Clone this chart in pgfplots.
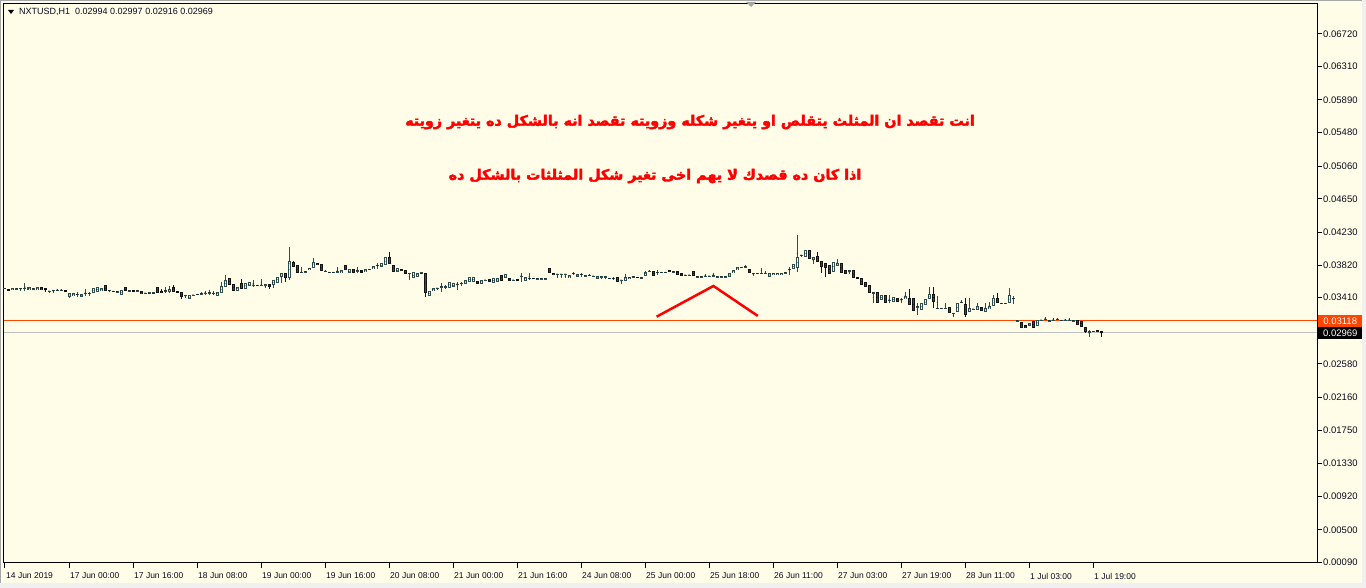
\documentclass[border=0pt]{standalone}
\usepackage{pgfplots}
\pgfplotsset{compat=1.18}
\usepackage{pgfplotstable}
\usepackage{fontspec}
\setmainfont{Liberation Sans}
\newfontfamily\arabicfont[Script=Arabic, BoldFeatures={FakeBold=2.6}]{DejaVu Sans}
\TeXXeTstate=1
\definecolor{bgc}{RGB}{255,253,232}
\definecolor{winc}{RGB}{240,240,240}
\definecolor{bullc}{RGB}{47,79,79}
\definecolor{bearc}{RGB}{20,20,20}
\definecolor{bearin}{RGB}{75,75,75}
\definecolor{askc}{RGB}{255,69,0}
\definecolor{bidc}{RGB}{192,192,192}
\definecolor{txtc}{RGB}{10,10,30}

\pgfplotsset{
  candle/.style 2 args={draw=none, mark=*, mark size=0.01bp, mark options={draw=none, fill=none}, forget plot,
    restrict y to domain=0:1,
    error bars/.cd, y dir=both, y explicit, error mark=none,
    error bar style={draw=#1, line width=#2}},
}

\pgfplotstableread{
x o h l c t
0 0.03528 0.03532 0.03520 0.03528 1
1 0.03516 0.03516 0.03491 0.03503 0
2 0.03503 0.03532 0.03503 0.03532 1
3 0.03524 0.03528 0.03520 0.03524 1
4 0.03528 0.03528 0.03499 0.03528 1
5 0.03532 0.03591 0.03499 0.03532 1
6 0.03507 0.03541 0.03507 0.03541 1
7 0.03524 0.03528 0.03520 0.03524 1
8 0.03507 0.03541 0.03507 0.03541 1
9 0.03541 0.03541 0.03507 0.03507 0
10 0.03528 0.03528 0.03482 0.03507 0
11 0.03495 0.03495 0.03478 0.03495 1
12 0.03503 0.03503 0.03474 0.03503 1
13 0.03503 0.03516 0.03503 0.03503 1
14 0.03503 0.03520 0.03503 0.03503 1
15 0.03507 0.03507 0.03486 0.03486 0
16 0.03424 0.03474 0.03403 0.03474 1
17 0.03432 0.03465 0.03432 0.03465 1
18 0.03453 0.03482 0.03424 0.03453 1
19 0.03424 0.03457 0.03424 0.03457 1
20 0.03465 0.03516 0.03436 0.03465 1
21 0.03465 0.03486 0.03436 0.03465 1
22 0.03465 0.03528 0.03465 0.03528 1
23 0.03482 0.03549 0.03482 0.03549 1
24 0.03495 0.03528 0.03495 0.03528 1
25 0.03566 0.03566 0.03491 0.03491 0
26 0.03503 0.03507 0.03482 0.03503 1
27 0.03491 0.03495 0.03486 0.03491 1
28 0.03474 0.03495 0.03474 0.03495 1
29 0.03440 0.03507 0.03440 0.03507 1
30 0.03541 0.03541 0.03491 0.03491 0
31 0.03499 0.03499 0.03486 0.03499 1
32 0.03503 0.03503 0.03478 0.03491 0
33 0.03499 0.03503 0.03495 0.03499 1
34 0.03495 0.03495 0.03453 0.03453 0
35 0.03470 0.03470 0.03457 0.03470 1
36 0.03453 0.03478 0.03453 0.03478 1
37 0.03453 0.03478 0.03453 0.03478 1
38 0.03541 0.03541 0.03465 0.03465 0
39 0.03499 0.03524 0.03465 0.03465 0
40 0.03499 0.03541 0.03465 0.03499 1
41 0.03486 0.03557 0.03474 0.03524 1
42 0.03541 0.03570 0.03486 0.03486 0
43 0.03495 0.03495 0.03474 0.03474 0
44 0.03482 0.03482 0.03390 0.03424 0
45 0.03440 0.03440 0.03403 0.03440 1
46 0.03390 0.03445 0.03390 0.03445 1
47 0.03445 0.03449 0.03440 0.03445 1
48 0.03453 0.03457 0.03449 0.03453 1
49 0.03449 0.03478 0.03449 0.03465 1
50 0.03470 0.03499 0.03440 0.03470 1
51 0.03474 0.03507 0.03440 0.03474 1
52 0.03465 0.03495 0.03445 0.03465 1
53 0.03436 0.03486 0.03436 0.03486 1
54 0.03474 0.03612 0.03474 0.03557 1
55 0.03549 0.03695 0.03541 0.03633 1
56 0.03654 0.03654 0.03570 0.03570 0
57 0.03582 0.03582 0.03491 0.03491 0
58 0.03499 0.03549 0.03499 0.03549 1
59 0.03591 0.03641 0.03524 0.03524 0
60 0.03524 0.03591 0.03524 0.03591 1
61 0.03557 0.03603 0.03557 0.03603 1
62 0.03570 0.03633 0.03549 0.03570 1
63 0.03566 0.03570 0.03562 0.03566 1
64 0.03570 0.03641 0.03557 0.03570 1
65 0.03574 0.03574 0.03528 0.03574 1
66 0.03582 0.03582 0.03516 0.03549 0
67 0.03574 0.03633 0.03528 0.03633 1
68 0.03599 0.03674 0.03599 0.03674 1
69 0.03674 0.03725 0.03599 0.03716 1
70 0.03725 0.03725 0.03612 0.03662 0
71 0.03654 0.04051 0.03633 0.03871 1
72 0.03863 0.03875 0.03800 0.03800 0
73 0.03821 0.03821 0.03716 0.03716 0
74 0.03729 0.03800 0.03716 0.03729 1
75 0.03737 0.03741 0.03733 0.03737 1
76 0.03758 0.03787 0.03758 0.03787 1
77 0.03779 0.03904 0.03779 0.03863 1
78 0.03850 0.03850 0.03817 0.03817 0
79 0.03829 0.03829 0.03750 0.03750 0
80 0.03741 0.03758 0.03737 0.03741 1
81 0.03729 0.03733 0.03725 0.03729 1
82 0.03729 0.03733 0.03725 0.03729 1
83 0.03737 0.03791 0.03716 0.03737 1
84 0.03716 0.03758 0.03716 0.03758 1
85 0.03821 0.03821 0.03758 0.03758 0
86 0.03716 0.03766 0.03716 0.03766 1
87 0.03766 0.03766 0.03725 0.03725 0
88 0.03750 0.03800 0.03716 0.03750 1
89 0.03758 0.03758 0.03720 0.03720 0
90 0.03729 0.03766 0.03729 0.03766 1
91 0.03766 0.03770 0.03762 0.03766 1
92 0.03766 0.03808 0.03766 0.03808 1
93 0.03817 0.03850 0.03766 0.03817 1
94 0.03791 0.03842 0.03791 0.03842 1
95 0.03821 0.03917 0.03821 0.03917 1
96 0.03917 0.03988 0.03833 0.03833 0
97 0.03825 0.03825 0.03737 0.03737 0
98 0.03729 0.03779 0.03729 0.03779 1
99 0.03775 0.03775 0.03741 0.03741 0
100 0.03758 0.03758 0.03704 0.03704 0
101 0.03716 0.03716 0.03633 0.03716 1
102 0.03654 0.03729 0.03654 0.03729 1
103 0.03674 0.03725 0.03674 0.03725 1
104 0.03704 0.03729 0.03704 0.03729 1
105 0.03725 0.03725 0.03424 0.03474 0
106 0.03432 0.03495 0.03432 0.03495 1
107 0.03495 0.03528 0.03495 0.03528 1
108 0.03532 0.03532 0.03516 0.03532 1
109 0.03549 0.03599 0.03486 0.03549 1
110 0.03549 0.03570 0.03516 0.03549 1
111 0.03528 0.03612 0.03528 0.03612 1
112 0.03541 0.03591 0.03541 0.03591 1
113 0.03582 0.03612 0.03507 0.03582 1
114 0.03591 0.03612 0.03557 0.03591 1
115 0.03582 0.03633 0.03582 0.03633 1
116 0.03612 0.03666 0.03612 0.03666 1
117 0.03612 0.03666 0.03612 0.03666 1
118 0.03624 0.03624 0.03582 0.03582 0
119 0.03582 0.03633 0.03582 0.03633 1
120 0.03633 0.03637 0.03629 0.03633 1
121 0.03641 0.03641 0.03612 0.03612 0
122 0.03599 0.03654 0.03599 0.03654 1
123 0.03603 0.03662 0.03603 0.03662 1
124 0.03695 0.03695 0.03624 0.03624 0
125 0.03654 0.03708 0.03654 0.03708 1
126 0.03654 0.03654 0.03624 0.03624 0
127 0.03633 0.03637 0.03629 0.03633 1
128 0.03645 0.03645 0.03620 0.03620 0
129 0.03683 0.03725 0.03612 0.03683 1
130 0.03624 0.03674 0.03624 0.03674 1
131 0.03654 0.03725 0.03633 0.03654 1
132 0.03662 0.03662 0.03641 0.03641 0
133 0.03649 0.03653 0.03645 0.03649 1
134 0.03649 0.03653 0.03645 0.03649 1
135 0.03649 0.03653 0.03645 0.03649 1
136 0.03779 0.03779 0.03716 0.03716 0
137 0.03725 0.03725 0.03695 0.03695 0
138 0.03708 0.03708 0.03654 0.03708 1
139 0.03708 0.03708 0.03654 0.03708 1
140 0.03708 0.03708 0.03654 0.03708 1
141 0.03654 0.03695 0.03654 0.03695 1
142 0.03716 0.03737 0.03695 0.03716 1
143 0.03674 0.03704 0.03674 0.03704 1
144 0.03704 0.03725 0.03674 0.03704 1
145 0.03687 0.03691 0.03683 0.03687 1
146 0.03687 0.03704 0.03687 0.03695 1
147 0.03683 0.03687 0.03679 0.03683 1
148 0.03641 0.03687 0.03641 0.03687 1
149 0.03674 0.03674 0.03641 0.03674 1
150 0.03674 0.03674 0.03641 0.03674 1
151 0.03654 0.03658 0.03650 0.03654 1
152 0.03654 0.03674 0.03633 0.03654 1
153 0.03674 0.03674 0.03612 0.03612 0
154 0.03633 0.03633 0.03582 0.03633 1
155 0.03624 0.03704 0.03624 0.03674 1
156 0.03641 0.03674 0.03641 0.03674 1
157 0.03674 0.03678 0.03670 0.03674 1
158 0.03674 0.03674 0.03654 0.03654 0
159 0.03662 0.03666 0.03658 0.03662 1
160 0.03683 0.03750 0.03683 0.03737 1
161 0.03741 0.03758 0.03741 0.03746 1
162 0.03750 0.03750 0.03683 0.03683 0
163 0.03729 0.03758 0.03695 0.03729 1
164 0.03729 0.03733 0.03725 0.03729 1
165 0.03729 0.03733 0.03725 0.03729 1
166 0.03758 0.03758 0.03729 0.03729 0
167 0.03737 0.03741 0.03733 0.03737 1
168 0.03750 0.03750 0.03695 0.03695 0
169 0.03716 0.03716 0.03687 0.03687 0
170 0.03695 0.03699 0.03691 0.03695 1
171 0.03695 0.03699 0.03691 0.03695 1
172 0.03741 0.03741 0.03687 0.03687 0
173 0.03674 0.03678 0.03670 0.03674 1
174 0.03674 0.03678 0.03670 0.03674 1
175 0.03683 0.03704 0.03679 0.03683 1
176 0.03683 0.03687 0.03679 0.03683 1
177 0.03687 0.03725 0.03683 0.03687 1
178 0.03674 0.03678 0.03670 0.03674 1
179 0.03674 0.03678 0.03670 0.03674 1
180 0.03674 0.03678 0.03670 0.03674 1
181 0.03674 0.03716 0.03674 0.03716 1
182 0.03716 0.03758 0.03716 0.03758 1
183 0.03758 0.03791 0.03758 0.03791 1
184 0.03791 0.03795 0.03787 0.03791 1
185 0.03800 0.03817 0.03796 0.03800 1
186 0.03775 0.03775 0.03716 0.03716 0
187 0.03716 0.03716 0.03683 0.03716 1
188 0.03716 0.03720 0.03712 0.03716 1
189 0.03716 0.03779 0.03712 0.03716 1
190 0.03716 0.03750 0.03712 0.03716 1
191 0.03674 0.03716 0.03674 0.03716 1
192 0.03691 0.03725 0.03691 0.03725 1
193 0.03691 0.03725 0.03691 0.03725 1
194 0.03691 0.03725 0.03691 0.03725 1
195 0.03725 0.03729 0.03721 0.03725 1
196 0.03766 0.03800 0.03695 0.03766 1
197 0.03775 0.03833 0.03775 0.03833 1
198 0.03779 0.04197 0.03737 0.03917 1
199 0.03946 0.03950 0.03925 0.03946 1
200 0.03917 0.04009 0.03917 0.04009 1
201 0.04009 0.04009 0.03892 0.03892 0
202 0.03883 0.03925 0.03829 0.03925 1
203 0.03934 0.03980 0.03862 0.03862 0
204 0.03871 0.03871 0.03716 0.03800 0
205 0.03842 0.03842 0.03674 0.03779 0
206 0.03821 0.03821 0.03708 0.03708 0
207 0.03737 0.03862 0.03737 0.03862 1
208 0.03812 0.03892 0.03812 0.03850 1
209 0.03842 0.03842 0.03725 0.03725 0
210 0.03758 0.03758 0.03708 0.03708 0
211 0.03750 0.03750 0.03704 0.03750 1
212 0.03758 0.03758 0.03653 0.03653 0
213 0.03674 0.03674 0.03649 0.03649 0
214 0.03653 0.03653 0.03570 0.03570 0
215 0.03612 0.03612 0.03549 0.03549 0
216 0.03570 0.03570 0.03465 0.03465 0
217 0.03474 0.03486 0.03340 0.03474 1
218 0.03486 0.03486 0.03348 0.03348 0
219 0.03382 0.03445 0.03382 0.03445 1
220 0.03445 0.03445 0.03340 0.03340 0
221 0.03382 0.03445 0.03340 0.03382 1
222 0.03361 0.03415 0.03361 0.03415 1
223 0.03411 0.03411 0.03361 0.03361 0
224 0.03390 0.03411 0.03340 0.03390 1
225 0.03390 0.03486 0.03390 0.03432 1
226 0.03403 0.03520 0.03319 0.03319 0
227 0.03403 0.03403 0.03248 0.03248 0
228 0.03298 0.03340 0.03194 0.03298 1
229 0.03256 0.03340 0.03256 0.03340 1
230 0.03319 0.03390 0.03319 0.03390 1
231 0.03390 0.03549 0.03390 0.03457 1
232 0.03457 0.03549 0.03277 0.03361 0
233 0.03277 0.03432 0.03273 0.03277 1
234 0.03277 0.03281 0.03273 0.03277 1
235 0.03277 0.03340 0.03273 0.03277 1
236 0.03298 0.03298 0.03215 0.03215 0
237 0.03215 0.03215 0.03164 0.03215 1
238 0.03227 0.03340 0.03227 0.03340 1
239 0.03340 0.03382 0.03340 0.03361 1
240 0.03332 0.03403 0.03164 0.03194 0
241 0.03236 0.03403 0.03236 0.03277 1
242 0.03269 0.03273 0.03265 0.03269 1
243 0.03256 0.03340 0.03256 0.03307 1
244 0.03298 0.03298 0.03248 0.03248 0
245 0.03236 0.03340 0.03236 0.03277 1
246 0.03265 0.03361 0.03265 0.03307 1
247 0.03307 0.03445 0.03307 0.03403 1
248 0.03403 0.03465 0.03340 0.03340 0
249 0.03340 0.03344 0.03336 0.03340 1
250 0.03340 0.03344 0.03336 0.03340 1
251 0.03340 0.03528 0.03340 0.03445 1
252 0.03403 0.03432 0.03332 0.03403 1
253 0.03123 0.03131 0.03119 0.03123 1
254 0.03110 0.03110 0.03027 0.03027 0
255 0.03064 0.03064 0.03027 0.03027 0
256 0.03056 0.03098 0.03056 0.03098 1
257 0.03123 0.03123 0.03027 0.03027 0
258 0.03056 0.03131 0.03056 0.03131 1
259 0.03131 0.03135 0.03127 0.03131 1
260 0.03144 0.03164 0.03140 0.03144 1
261 0.03123 0.03127 0.03119 0.03123 1
262 0.03131 0.03152 0.03127 0.03131 1
263 0.03139 0.03160 0.03135 0.03139 1
264 0.03127 0.03131 0.03123 0.03127 1
265 0.03131 0.03148 0.03127 0.03131 1
266 0.03131 0.03152 0.03127 0.03131 1
267 0.03123 0.03127 0.03119 0.03123 1
268 0.03131 0.03131 0.03068 0.03068 0
269 0.03118 0.03118 0.03048 0.03048 0
270 0.03048 0.03048 0.02964 0.02985 0
271 0.02985 0.03006 0.02914 0.02985 1
272 0.02976 0.02998 0.02976 0.02998 1
273 0.03002 0.03002 0.02976 0.02976 0
274 0.02994 0.02997 0.02916 0.02969 0
}\candles

\begin{document}
\begin{tikzpicture}[x=1bp,y=1bp]
\fill[winc] (-4,-25) rectangle (1362,563);
\fill[bgc] (-4,-20) rectangle (1358,563);
\draw[black!35, line width=1bp] (-3.5,-20) -- (-3.5,562.5) -- (1358,562.5);
\begin{axis}[
  at={(0,0)}, anchor=south west,
  scale only axis, width=1313bp, height=559bp,
  xmin=-0.25, xmax=328, ymin=0.000833, ymax=0.070932,
  clip=false, scaled y ticks=false, scaled x ticks=false,
  axis line style={black, line width=1bp},
  xtick pos=bottom, ytick pos=right, yticklabel pos=right,
  tick align=outside, major tick length=5bp,
  tick style={black, line width=1bp},
  xtick={0,16,32,48,64,80,96,112,128,144,160,176,192,208,224,240,256,272},
  xticklabels={14 Jun 2019,17 Jun 00:00,17 Jun 16:00,18 Jun 08:00,19 Jun 00:00,19 Jun 16:00,20 Jun 08:00,21 Jun 00:00,21 Jun 16:00,24 Jun 08:00,25 Jun 00:00,25 Jun 18:00,26 Jun 11:00,27 Jun 03:00,27 Jun 19:00,28 Jun 11:00,1 Jul 03:00,1 Jul 19:00},
  ytick={0.00090,0.00500,0.00920,0.01330,0.01750,0.02160,0.02580,0.03410,0.03820,0.04230,0.04650,0.05060,0.05480,0.05890,0.06310,0.06720},
  yticklabels={0.00090,0.00500,0.00920,0.01330,0.01750,0.02160,0.02580,0.03410,0.03820,0.04230,0.04650,0.05060,0.05480,0.05890,0.06310,0.06720},
  yticklabel style={font=\fontsize{9.5bp}{11bp}\selectfont, text=txtc, anchor=west, inner sep=1bp},
  xticklabel style={font=\fontsize{8.5bp}{10bp}\selectfont, text=txtc, anchor=west, yshift=-8bp, inner sep=1bp},
]
\addplot[askc, line width=1bp, forget plot] coordinates {(-0.25,0.03118) (328,0.03118)};
\addplot[bidc, line width=1bp, forget plot] coordinates {(-0.25,0.02969) (328,0.02969)};
% wicks (t=1 bull, t=0 bear; other rows pushed out of the domain and dropped)
\addplot[candle={bullc}{1bp}]
  table[x=x, y expr={(\thisrow{h}+\thisrow{l})/2+(1-\thisrow{t})*10}, y error expr={(\thisrow{h}-\thisrow{l})/2}] {\candles};
\addplot[candle={bearc}{1bp}]
  table[x=x, y expr={(\thisrow{h}+\thisrow{l})/2+\thisrow{t}*10}, y error expr={(\thisrow{h}-\thisrow{l})/2}] {\candles};
% bull bodies
\addplot[candle={bullc}{3bp}]
  table[x=x, y expr={(\thisrow{o}+\thisrow{c})/2+(1-\thisrow{t})*10}, y error expr={max(abs(\thisrow{c}-\thisrow{o})/2,0.00005)}] {\candles};
\addplot[candle={bgc}{1bp}]
  table[x=x, y expr={(\thisrow{o}+\thisrow{c})/2+(1-\thisrow{t})*10}, y error expr={max(abs(\thisrow{c}-\thisrow{o})/2-0.000125,0)}] {\candles};
% bear bodies
\addplot[candle={bearc}{3bp}]
  table[x=x, y expr={(\thisrow{o}+\thisrow{c})/2+\thisrow{t}*10}, y error expr={max(abs(\thisrow{c}-\thisrow{o})/2,0.00005)}] {\candles};
\addplot[candle={bearin}{1bp}]
  table[x=x, y expr={(\thisrow{o}+\thisrow{c})/2+\thisrow{t}*10}, y error expr={max(abs(\thisrow{c}-\thisrow{o})/2-0.000125,0)}] {\candles};
% red triangle annotation
\addplot[red, line width=2.5bp, forget plot] coordinates {(162.9,0.03172) (177.1,0.03557) (188.2,0.03181)};
% price boxes
\node[fill=askc, text=white, anchor=west, inner sep=0pt, minimum width=44bp, minimum height=12bp, font=\fontsize{9.5bp}{11bp}\selectfont, xshift=1bp] at (axis cs:328,0.03118) {0.03118};
\node[fill=black, text=white, anchor=west, inner sep=0pt, minimum width=44bp, minimum height=12bp, font=\fontsize{9.5bp}{11bp}\selectfont, xshift=1bp] at (axis cs:328,0.02969) {0.02969};
% Arabic text
\node[text=red, inner sep=0pt, font=\arabicfont\bfseries\fontsize{14.3bp}{17bp}\selectfont] at (axis cs:171.25,0.05613) {\beginR انت تقصد ان المثلث يتقلص او يتغير شكله وزويته تقصد انه بالشكل ده يتغير زويته\endR};
\node[text=red, inner sep=0pt, font=\arabicfont\bfseries\fontsize{14.3bp}{17bp}\selectfont] at (axis cs:162.5,0.04936) {\beginR اذا كان ده قصدك لا يهم اخى تغير شكل المثلثات بالشكل ده\endR};
\end{axis}
% header
\fill[black] (4,553) -- (10,553) -- (7,549) -- cycle;
\node[anchor=west, inner sep=0pt, font=\fontsize{9bp}{10bp}\selectfont, text=txtc] at (15,551) {NXTUSD,H1\ \ 0.02994 0.02997 0.02916 0.02969};
\fill[black!35] (742,561) -- (752,561) -- (747,556) -- cycle;
\pgfresetboundingbox
\path[use as bounding box] (-4,-25) rectangle (1362,563);
\end{tikzpicture}
\end{document}
